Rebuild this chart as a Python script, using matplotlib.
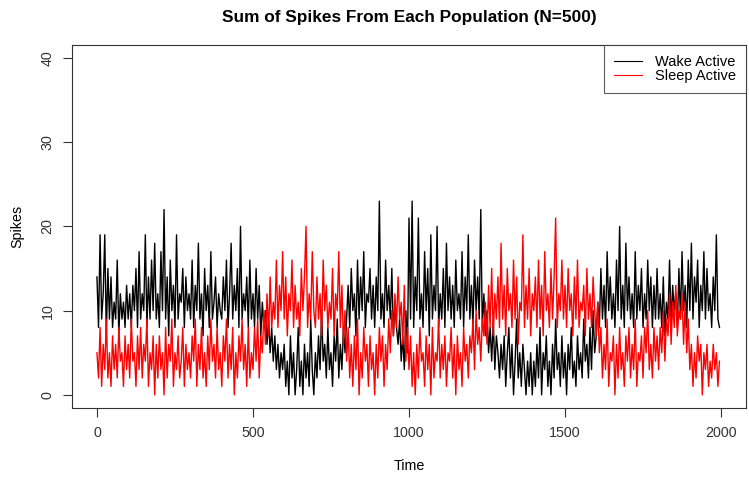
import matplotlib
matplotlib.use('Agg')
import matplotlib.pyplot as plt
import numpy as np

plt.rcParams['font.family'] = ['Liberation Sans', 'DejaVu Sans']

# spike counts, one value every 5 time steps
# one character per value, base 36 (0-9, a=10 ... n=23), 200 time steps per chunk
wake_chunks = [
    "e8j9cj7f9e8b9g7c9b8d9c8daf8h9caj8e9gai9c",
    "8ham9e7gad8j9cbf8eac9g8dai9c7fad8h9be8ca",
    "9eag8ci9daf8k9cae8g9c8f9d7b8a69584736253",
    "614072503814062519305273a462835174926385",
    "9d8fac7g9eah8cbf9d8ean9c8gad9f7b869473a5",
    "l9n8eal9c8haf7j9dak8c9f8iae9d8gac9h8eaj9",
    "d8gae9m8c7a58493752637158260492516304150",
    "41628053714062935172506382417352946283a5",
    "7b8f9d8hae9c8gak9d8iae9c8h9daf8c9gae8d9f",
    "9c8e7b9g8dac8f9had8gai9ebg8dah9fac8eaj98",
]
sleep_chunks = [
    "5281639251736284517362945173826491537062",
    "7350826491537248163527491638251739462835",
    "174926380527493618253849275a6c7e8b9g8dah",
    "9e7cag8d9b7faek8c9ha8e9c7gad8b9f7cah8d6a",
    "48261739052846173506284716395a7c8e9b6d48",
    "3715062845173608254926371548260735184627",
    "593a68497b6d8f7c9e8i9d7fac8g9e6baj8d9f7c",
    "ae8g9d7hac8f9el8cag9d8fac7e9g8bad7f9c8ea",
    "7b5826391547062835174826391547285a362847",
    "385a497c6b8d7a9c6b5936152746053614263514",
]
step = 5

wake = np.array([int(c, 36) for c in "".join(wake_chunks)])
sleep = np.array([int(c, 36) for c in "".join(sleep_chunks)])
t_wake = np.arange(len(wake)) * step
t_sleep = np.arange(len(sleep)) * step

xticks = [0, 500, 1000, 1500, 2000]
yticks = [0, 10, 20, 30, 40]

fig = plt.figure(figsize=(7.49, 4.84), dpi=100)
ax = fig.add_axes([72/749, 1-408.3/484, (746-72)/749, (408.3-44.5)/484])

ax.plot(t_wake, wake, color='black', lw=1.0, label='Wake Active')
ax.plot(t_sleep, sleep, color='red', lw=1.0, label='Sleep Active')

ax.set_xlim(-80, 2080)
ax.set_ylim(-1.6, 41.6)
ax.set_xticks(xticks)
ax.set_yticks(yticks)
ax.tick_params(direction='out', length=6.5, width=0.8, labelsize=10.3, colors='#333333')
ax.tick_params(axis='x', pad=6)
ax.tick_params(axis='y', pad=6, labelrotation=90)
for lab in ax.get_yticklabels():
    lab.set_va('center')
for sp in ax.spines.values():
    sp.set_linewidth(0.8)
    sp.set_color('#333333')

ax.set_title('Sum of Spikes From Each Population (N=500)', fontsize=12.4,
             fontweight='bold', pad=16)
ax.set_xlabel('Time', fontsize=10.3, labelpad=14)
ax.set_ylabel('Spikes', fontsize=10.3, labelpad=12)

leg = ax.legend(loc='upper right', borderaxespad=0, fancybox=False, fontsize=10.5,
                labelspacing=0.0, handlelength=1.9, handletextpad=0.9, borderpad=0.7)
leg.get_frame().set_edgecolor('#333333')
leg.get_frame().set_linewidth(0.8)
for line in leg.get_lines():
    line.set_linewidth(0.8)

plt.savefig('out.png', dpi=100)
